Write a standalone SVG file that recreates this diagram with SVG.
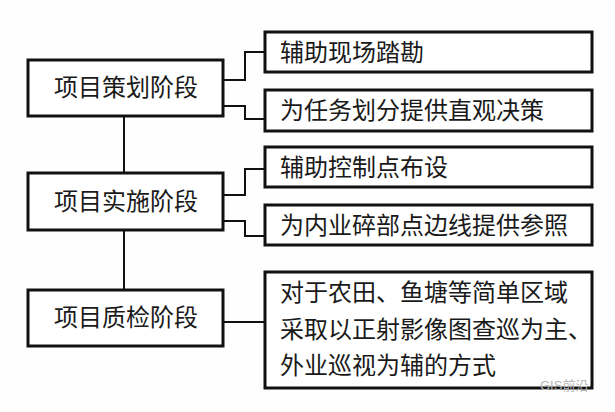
<svg xmlns="http://www.w3.org/2000/svg" width="615" height="412" viewBox="0 0 615 412">
<style>
.box{fill:#fff;stroke:#111;stroke-width:3}
.ln{fill:none;stroke:#111;stroke-width:2}
.t{font-family:"Liberation Serif","Noto Sans CJK SC",serif;font-size:24px;fill:#1a1a1a}
.tc{text-anchor:middle}
.wm{font-family:"Liberation Sans","Noto Sans CJK SC",sans-serif;font-size:13px;fill:#b5b5b5}
</style>
<rect width="615" height="412" fill="#fefefe"/>
<g id="connectors">
<path class="ln" d="M124 116V173M124 230V290"/>
<path class="ln" d="M223 80H245V52H265M223 106H245V119H265"/>
<path class="ln" d="M223 195H245V169H265M223 221H245V236H265"/>
<path class="ln" d="M223 322H265"/>
</g>
<g id="n-plan"><rect class="box" x="28" y="60" width="195" height="56"/><text class="t tc" x="126" y="96">项目策划阶段</text></g>
<g id="n-impl"><rect class="box" x="28" y="173" width="195" height="57"/><text class="t tc" x="126" y="210">项目实施阶段</text></g>
<g id="n-qc"><rect class="box" x="28" y="290" width="195" height="56"/><text class="t tc" x="126" y="326">项目质检阶段</text></g>
<g id="n-a"><rect class="box" x="265" y="32" width="327" height="40"/><text class="t" x="280" y="61">辅助现场踏勘</text></g>
<g id="n-b"><rect class="box" x="265" y="90" width="327" height="41"/><text class="t" x="280" y="119">为任务划分提供直观决策</text></g>
<g id="n-c"><rect class="box" x="265" y="147" width="327" height="40"/><text class="t" x="280" y="176">辅助控制点布设</text></g>
<g id="n-d"><rect class="box" x="265" y="205" width="327" height="40"/><text class="t" x="280" y="234">为内业碎部点边线提供参照</text></g>
<g id="n-e"><rect class="box" x="265" y="272" width="327" height="116"/>
<text class="t" x="280" y="301">对于农田、鱼塘等简单区域</text>
<text class="t" x="280" y="338">采取以正射影像图查巡为主、</text>
<text class="t" x="280" y="374">外业巡视为辅的方式</text></g>
<text class="wm" x="540" y="390">GIS前沿</text>
</svg>
